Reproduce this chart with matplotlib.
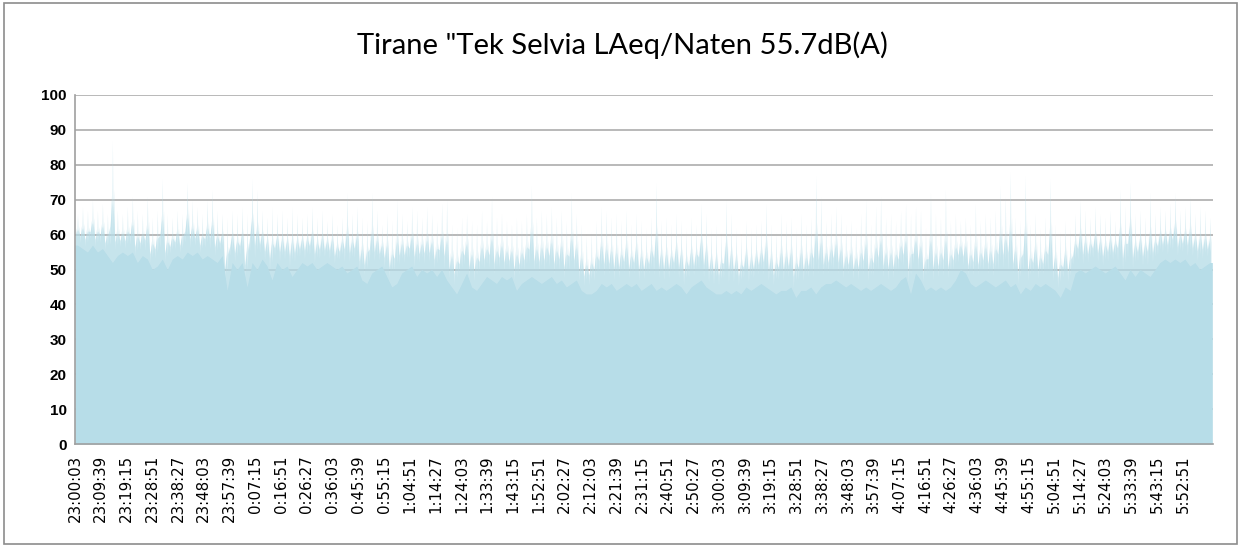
import numpy as np
import matplotlib
matplotlib.use("Agg")
import matplotlib.pyplot as plt
from matplotlib.patches import Rectangle

# ---------------- data ----------------
title = 'Tirane "Tek Selvia LAeq/Naten 55.7dB(A)'
tick_labels = [
    "23:00:03", "23:09:39", "23:19:15", "23:28:51", "23:38:27", "23:48:03", "23:57:39",
    "0:07:15", "0:16:51", "0:26:27", "0:36:03", "0:45:39", "0:55:15", "1:04:51", "1:14:27",
    "1:24:03", "1:33:39", "1:43:15", "1:52:51", "2:02:27", "2:12:03", "2:21:39", "2:31:15",
    "2:40:51", "2:50:27", "3:00:03", "3:09:39", "3:19:15", "3:28:51", "3:38:27", "3:48:03",
    "3:57:39", "4:07:15", "4:16:51", "4:26:27", "4:36:03", "4:45:39", "4:55:15", "5:04:51",
    "5:14:27", "5:24:03", "5:33:39", "5:43:15", "5:52:51",
]
tick_step_s = 576          # seconds between labelled categories
total_s = 25437            # length of record (23:00:03 -> ~6:04)
window_s = 111.5           # length of each min/max window

# maximum LAeq in each window (dB)
peak_db = [
    66, 68, 67, 70, 67, 69, 66, 87, 67, 66, 68, 71, 67, 66, 71, 65, 67, 76, 66, 65,
    67, 66, 75, 70, 68, 66, 70, 73, 67, 66, 65, 67, 66, 68, 66, 76, 73, 67, 65, 68,
    66, 67, 65, 68, 66, 65,
    66, 68, 65, 67, 64, 66, 63, 65, 72, 66, 68, 65, 64, 72, 67, 63, 66, 64, 70, 66,
    64, 68, 67, 65, 68, 66, 64, 69, 70, 63, 62, 65, 66, 64, 63, 67, 64, 71, 65, 66,
    64, 63, 65, 64, 66, 74,
    65, 67, 66, 68, 65, 67, 64, 72, 66, 63, 60, 61, 64, 68, 67, 65, 66, 64, 67, 63,
    66, 64, 62, 65, 75, 64, 65, 63, 66, 64, 62, 65, 63, 69, 66, 62, 63, 61, 70, 66,
    62, 60, 64, 62, 63,
    64, 69, 63, 61, 66, 64, 65, 62, 66, 63, 65, 77, 71, 64, 66, 68, 66, 63, 64, 62,
    66, 70, 63, 68, 71, 65, 66, 64, 67, 69, 66, 68, 67, 62, 72, 66, 65, 73, 64, 66,
    64, 65, 63, 69, 64, 66,
    65, 67, 74, 71, 78, 65, 64, 77, 63, 66, 62, 65, 76, 63, 61, 64, 62, 66, 70, 67,
    65, 68, 66, 65, 67, 64, 73, 68, 75, 66, 67, 65, 72, 66, 68, 67, 69, 72, 67, 68,
    71, 66, 68, 67, 65,
]
# minimum LAeq in each window (dB)
floor_db = [
    57, 56, 55, 57, 55, 56, 54, 52, 54, 55, 54, 55, 52, 54, 53, 50, 51, 53, 50, 53,
    54, 53, 55, 54, 55, 53, 54, 53, 52, 54, 44, 52, 50, 52, 45, 52, 50, 53, 51, 47,
    52, 50, 51, 48, 50, 52,
    51, 52, 50, 51, 52, 51, 50, 51, 49, 50, 51, 47, 46, 49, 50, 51, 48, 45, 46, 49,
    50, 51, 48, 50, 49, 50, 48, 50, 47, 45, 43, 46, 49, 45, 44, 46, 48, 47, 46, 48,
    47, 48, 44, 46, 47, 48,
    47, 46, 47, 48, 46, 47, 45, 46, 47, 44, 43, 43, 44, 46, 45, 46, 44, 45, 46, 45,
    46, 44, 45, 46, 44, 45, 44, 45, 46, 45, 43, 45, 46, 47, 45, 44, 43, 43, 44, 43,
    44, 43, 45, 44, 45,
    46, 45, 44, 43, 44, 44, 45, 42, 44, 44, 45, 43, 45, 46, 46, 47, 46, 45, 46, 45,
    44, 45, 44, 45, 46, 45, 44, 45, 47, 48, 43, 49, 47, 44, 45, 44, 45, 44, 45, 47,
    50, 49, 46, 45, 46, 47,
    46, 45, 46, 47, 45, 46, 43, 45, 44, 46, 45, 46, 45, 44, 42, 45, 44, 49, 50, 49,
    50, 51, 50, 49, 50, 51, 49, 47, 50, 48, 50, 49, 48, 50, 52, 53, 52, 53, 52, 53,
    51, 52, 50, 51, 52,
]

# ---------------- drawing ----------------
fill_color = "#B7DDE8"
grid_color = "#A6A6A6"

fig = plt.figure(figsize=(12.41, 5.46), dpi=100)
fig.patch.set_facecolor("white")
fig.add_artist(Rectangle((0.003, 0.004), 0.994, 0.990, transform=fig.transFigure,
                         fill=False, edgecolor="#8C8C8C", linewidth=1.2))

ax = fig.add_axes([75 / 1241, 1 - 444 / 546, (1213 - 75) / 1241, (444 - 95) / 546])

n = len(peak_db)
t0 = np.arange(n) * window_s
tc = t0 + 0.5 * window_s
peak = np.asarray(peak_db, float)
flo = np.asarray(floor_db, float)
span = peak - flo

# solid part below the window minimum
ax.fill_between(np.r_[0, tc, n * window_s], 0, np.r_[flo[0], flo, flo[-1]],
                color=fill_color, linewidth=0, zorder=2)

# dense, broad fluctuations just above the minimum
bx = np.column_stack([t0, t0 + 0.25 * window_s, t0 + 0.5 * window_s,
                      t0 + 0.75 * window_s]).ravel()
by = np.column_stack([flo + 0.15 * span, flo + 0.55 * span, flo + 0.25 * span,
                      flo + 0.6 * span]).ravel()
ax.fill_between(bx, 0, by, color=fill_color, alpha=0.5, linewidth=0, zorder=2)

# individual spikes up to the window maximum
zx = np.column_stack([t0, t0 + 0.4 * window_s, t0 + 0.5 * window_s,
                      t0 + 0.6 * window_s]).ravel()
zy = np.column_stack([flo + 0.3 * span, flo + 0.5 * span, peak, flo + 0.5 * span]).ravel()
ax.fill_between(zx, 0, zy, color=fill_color, alpha=0.55, linewidth=0, zorder=2)

ax.set_xlim(0, total_s)
ax.set_ylim(0, 100)
ax.set_yticks(np.arange(0, 101, 10))
ax.set_xticks(np.arange(len(tick_labels)) * tick_step_s)
ax.set_xticklabels(tick_labels, rotation=90, fontsize=10.8, family="DejaVu Sans")
for lab in ax.get_yticklabels():
    lab.set_fontweight("bold")
    lab.set_fontsize(11)
    lab.set_family("Liberation Sans")
ax.tick_params(axis="both", length=0, colors="black")
ax.tick_params(axis="y", pad=6)
ax.tick_params(axis="x", pad=8)

ax.grid(axis="y", color=grid_color, linewidth=1.1, zorder=1)
ax.set_axisbelow(True)
for s in ["top", "right"]:
    ax.spines[s].set_visible(False)
for s in ["left", "bottom"]:
    ax.spines[s].set_color("#A0A0A0")
    ax.spines[s].set_linewidth(1.2)

fig.text(622 / 1241, 1 - 45 / 546, title, ha="center", va="center",
         fontsize=21, family="Lato")

fig.savefig("out.png", dpi=100)
